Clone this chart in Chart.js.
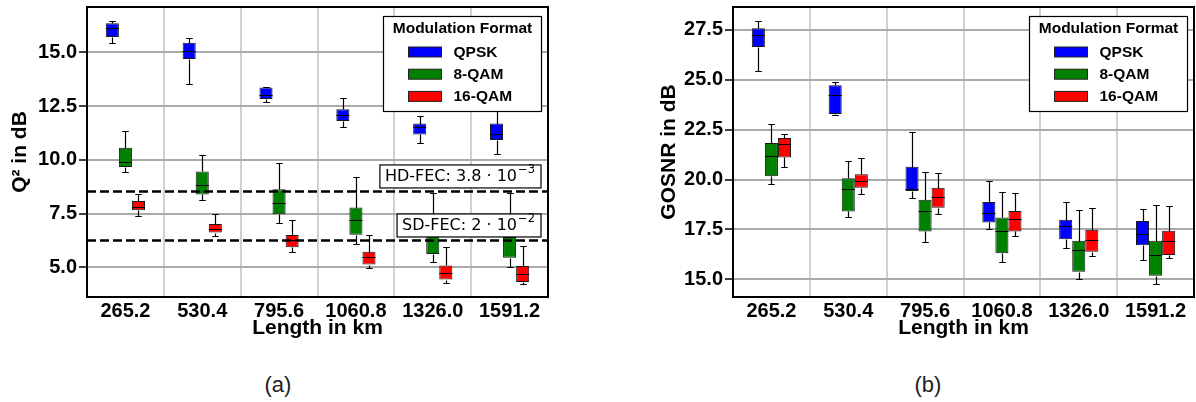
<!DOCTYPE html>
<html>
<head>
<meta charset="utf-8">
<script src="https://cdn.jsdelivr.net/npm/chart.js@4.4.1/dist/chart.umd.min.js"></script>
<style>
  html, body { margin: 0; padding: 0; background: #fff; }
  body { width: 1196px; height: 402px; position: relative; overflow: hidden; }
  canvas { position: absolute; top: 0; }
  #qChart { left: 0; }
  #gChart { left: 646px; }
  .cap { position: absolute; top: 372px; width: 60px; margin-left: -30px; text-align: center;
         font: 22px "Liberation Sans", Arial, sans-serif; color: #222; }
</style>
</head>
<body>
<canvas id="qChart" width="560" height="345"></canvas>
<canvas id="gChart" width="550" height="345"></canvas>
<div class="cap" style="left:278px">(a)</div>
<div class="cap" style="left:928px">(b)</div>
<script>
// categories + legend
const lengths = ['265.2', '530.4', '795.6', '1060.8', '1326.0', '1591.2'];
const formats = ['QPSK', '8-QAM', '16-QAM'];
const formatColors = ['#0000ff', '#008000', '#ff0000'];

// box stats per length: [min, q1, median, q3, max]
const q2Qpsk = [[15.43, 15.71, 16.15, 16.35, 16.47], [13.52, 14.69, 15.06, 15.45, 15.67], [12.69, 12.83, 13.01, 13.37, 13.40],
                [11.55, 11.81, 12.08, 12.35, 12.89], [10.78, 11.18, 11.51, 11.69, 12.05], [10.26, 10.92, 11.18, 11.69, 12.50]];
const q2Qam8 = [[9.44, 9.67, 9.89, 10.56, 11.32], [8.12, 8.39, 8.83, 9.46, 10.23], [7.06, 7.47, 7.98, 8.63, 9.86],
                [6.09, 6.52, 7.22, 7.78, 9.18], [5.25, 5.62, 6.45, 6.90, 8.45], [5.00, 5.44, 6.40, 6.80, 8.45]];
const q2Qam16 = [[7.39, 7.65, 7.81, 8.09, 8.43], [6.44, 6.62, 6.76, 7.02, 7.50], [5.70, 5.93, 6.27, 6.50, 7.20],
                 [4.98, 5.13, 5.48, 5.73, 6.50], [4.29, 4.43, 4.75, 5.09, 5.95], [4.22, 4.32, 4.71, 5.06, 6.01]];

const gosnrQpsk = [[25.43, 26.65, 27.26, 27.58, 27.97], [23.22, 23.29, 24.22, 24.73, 24.91], [19.06, 19.42, 19.54, 20.64, 22.40],
                   [17.50, 17.85, 18.30, 18.87, 19.91], [16.55, 17.01, 17.68, 17.98, 18.89], [15.96, 16.71, 17.25, 17.92, 18.52]];
const gosnrQam8 = [[19.76, 20.17, 21.18, 21.83, 22.78], [18.12, 18.40, 19.52, 20.06, 20.94], [16.88, 17.40, 18.43, 18.99, 20.38],
                   [15.84, 16.30, 17.43, 18.10, 19.37], [15.02, 15.37, 16.45, 16.93, 18.47], [14.76, 15.17, 16.21, 16.93, 18.72]];
const gosnrQam16 = [[20.61, 21.11, 21.77, 22.08, 22.30], [19.27, 19.59, 19.94, 20.26, 21.09], [18.27, 18.58, 19.12, 19.59, 20.34],
                    [17.16, 17.40, 18.03, 18.42, 19.34], [16.16, 16.38, 16.96, 17.48, 18.58], [16.08, 16.21, 16.93, 17.43, 18.68]];

const q2Ticks = [5.0, 7.5, 10.0, 12.5, 15.0];
const gosnrTicks = [15.0, 17.5, 20.0, 22.5, 25.0, 27.5];

// FEC limits (Q² in dB)
const fecValues = [8.53, 6.25];
const fecLabels = ['HD-FEC: 3.8 · 10', 'SD-FEC: 2 · 10'];
const fecExps = ['\u22123', '\u22122'];

const SANS = '"Liberation Sans", Arial, sans-serif';
Chart.defaults.font.family = SANS;
Chart.defaults.color = '#000';

const boxWhiskers = {
    id: 'boxWhiskers',
    afterDatasetsDraw(chart) {
        const { ctx, scales: { y } } = chart;
        const py = v => Math.round(y.getPixelForValue(v)) + 0.5;
        ctx.save();
        ctx.strokeStyle = '#000';
        ctx.lineWidth = 1.2;
        chart.data.datasets.forEach((ds, i) => {
            chart.getDatasetMeta(i).data.forEach((bar, j) => {
                const [lo, q1, med, q3, hi] = ds.stats[j];
                const x = Math.round(bar.x) + 0.5;
                const half = bar.width / 2, cap = bar.width / 4;
                ctx.beginPath();
                ctx.moveTo(x, py(q3)); ctx.lineTo(x, py(hi));
                ctx.moveTo(x, py(q1)); ctx.lineTo(x, py(lo));
                ctx.moveTo(x - cap, py(hi)); ctx.lineTo(x + cap, py(hi));
                ctx.moveTo(x - cap, py(lo)); ctx.lineTo(x + cap, py(lo));
                ctx.moveTo(bar.x - half, py(med)); ctx.lineTo(bar.x + half, py(med));
                ctx.stroke();
            });
        });
        ctx.restore();
    }
};

const fecLines = {
    id: 'fecLines',
    afterDatasetsDraw(chart, args, opts) {
        if (!opts.show) return;
        const { ctx, chartArea: a, scales: { y } } = chart;
        ctx.save();
        fecValues.forEach((val, i) => {
            const py = y.getPixelForValue(val);
            ctx.strokeStyle = '#000';
            ctx.setLineDash([9, 4]);
            ctx.lineWidth = 2.5;
            ctx.beginPath(); ctx.moveTo(a.left, py); ctx.lineTo(a.right, py); ctx.stroke();
            ctx.setLineDash([]);

            ctx.font = '16px "DejaVu Sans"';
            const mainW = ctx.measureText(fecLabels[i]).width;
            ctx.font = '11.5px "DejaVu Sans"';
            const supW = ctx.measureText(fecExps[i]).width;
            const w = mainW + supW + 12, h = 23;
            const x0 = a.right - 7 - w, y1 = py - 3.5, y0 = y1 - h;
            ctx.fillStyle = '#fff';
            ctx.fillRect(x0, y0, w, h);
            ctx.lineWidth = 1.2;
            ctx.strokeRect(x0, y0, w, h);
            ctx.fillStyle = '#000';
            ctx.textAlign = 'left';
            ctx.textBaseline = 'alphabetic';
            ctx.font = '16px "DejaVu Sans"';
            ctx.fillText(fecLabels[i], x0 + 5, y1 - 6.5);
            ctx.font = '11.5px "DejaVu Sans"';
            ctx.fillText(fecExps[i], x0 + 6 + mainW, y1 - 14.5);
        });
        ctx.restore();
    }
};

const frameLegend = {
    id: 'frameLegend',
    afterDraw(chart, args, opts) {
        const { ctx, chartArea: a } = chart;
        ctx.save();
        ctx.strokeStyle = '#000';
        ctx.lineWidth = 2;
        ctx.strokeRect(a.left, a.top, a.right - a.left, a.bottom - a.top);

        const w = 158, h = 95;
        const x0 = Math.round(a.right - 7 - w) + 0.5, y0 = Math.round(a.top + 9) + 0.5;
        ctx.fillStyle = '#fff';
        ctx.fillRect(x0, y0, w, h);
        ctx.lineWidth = 1.2;
        ctx.strokeRect(x0, y0, w, h);
        ctx.fillStyle = '#000';
        ctx.font = 'bold 15.5px ' + SANS;
        ctx.textAlign = 'center';
        ctx.textBaseline = 'middle';
        ctx.fillText(opts.title, x0 + w / 2, y0 + 12.5);
        ctx.textAlign = 'left';
        chart.data.datasets.forEach((ds, i) => {
            const cy = y0 + 35.5 + i * 22.2;
            ctx.fillStyle = ds.backgroundColor;
            ctx.fillRect(x0 + 25, cy - 5, 33, 10);
            ctx.strokeStyle = '#222';
            ctx.lineWidth = 1;
            ctx.strokeRect(x0 + 25, cy - 5, 33, 10);
            ctx.fillStyle = '#000';
            ctx.fillText(ds.label, x0 + 70, cy + 0.5);
        });
        ctx.restore();
    }
};

function makeChart(id, series, yMin, yMax, yTicks, yTitle, titlePad, padRight, showFec) {
    return new Chart(document.getElementById(id), {
        type: 'bar',
        data: {
            labels: lengths,
            datasets: series.map((stats, i) => ({
                label: formats[i],
                data: stats.map(s => [s[1], s[3]]),
                stats: stats,
                backgroundColor: formatColors[i],
                borderColor: '#1a1a1a',
                borderWidth: 1,
                borderSkipped: false,
                barPercentage: 1,
                categoryPercentage: 0.51
            }))
        },
        options: {
            responsive: false,
            animation: false,
            layout: { padding: { top: 7, right: padRight, left: 0, bottom: 0 } },
            plugins: {
                legend: { display: false },
                tooltip: { enabled: false },
                fecLines: { show: showFec },
                frameLegend: { title: 'Modulation Format' }
            },
            scales: {
                x: {
                    type: 'category',
                    offset: true,
                    grid: { offset: true, color: '#cfcfcf', lineWidth: 2, drawTicks: false },
                    border: { display: false },
                    ticks: { font: { size: 20, weight: 'bold' }, padding: 2, maxRotation: 0, autoSkip: false },
                    title: { display: true, text: 'Length in km', font: { size: 21, weight: 'bold' }, padding: { top: 0, bottom: 4 } },
                    afterFit: s => { s.height = 48; s.paddingLeft = 0; s.paddingRight = 0; }
                },
                y: {
                    min: yMin,
                    max: yMax,
                    afterBuildTicks: s => { s.ticks = yTicks.map(v => ({ value: v })); },
                    grid: { color: '#aaaaaa', lineWidth: 2, tickColor: '#000', tickLength: 8, tickWidth: 1.5 },
                    border: { display: false },
                    ticks: { font: { size: 20, weight: 'bold' }, padding: 2, callback: v => Number(v).toFixed(1) },
                    title: { display: true, text: yTitle, font: { size: 21, weight: 'bold' }, padding: { top: titlePad, bottom: 0 } },
                    afterFit: s => { s.width = 87; s.paddingTop = 0; s.paddingBottom = 0; }
                }
            }
        },
        plugins: [boxWhiskers, fecLines, frameLegend]
    });
}

makeChart('qChart', [q2Qpsk, q2Qam8, q2Qam16], 3.62, 17.11, q2Ticks, 'Q\u00B2 in dB', 8, 12, true);
makeChart('gChart', [gosnrQpsk, gosnrQam8, gosnrQam16], 14.11, 28.65, gosnrTicks, 'GOSNR in dB', 11, 2, false);
</script>
</body>
</html>
